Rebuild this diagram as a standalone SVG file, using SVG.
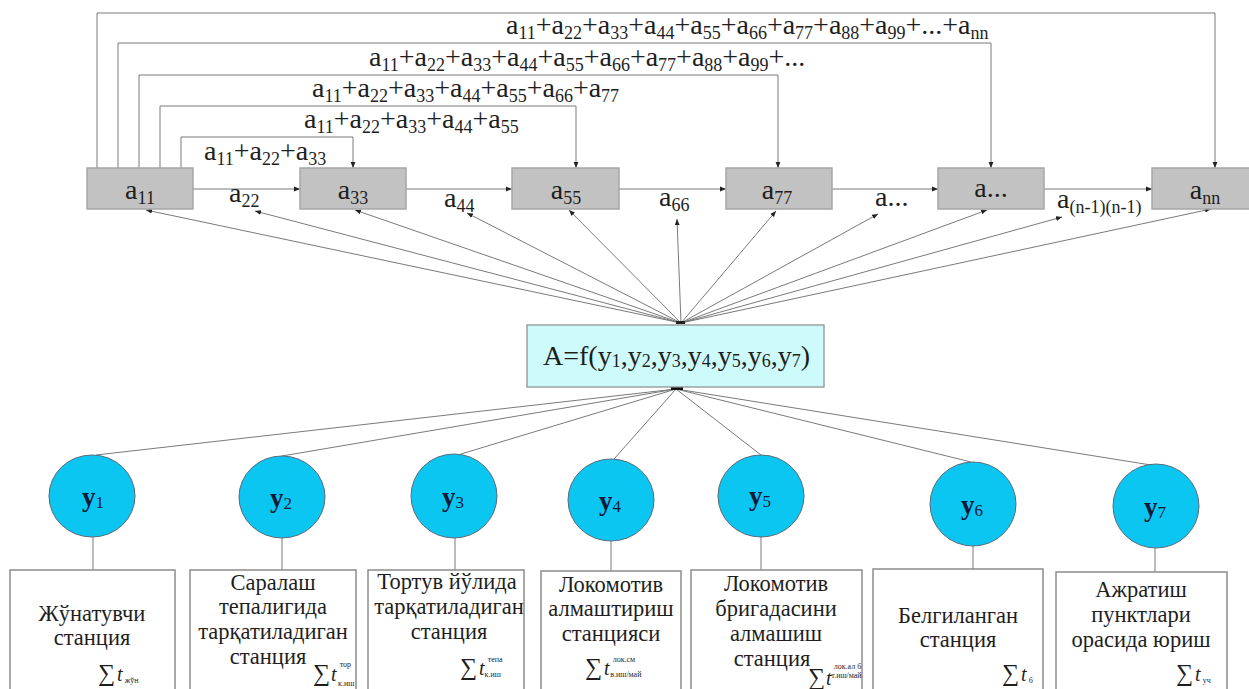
<svg xmlns="http://www.w3.org/2000/svg" width="1249" height="689" viewBox="0 0 1249 689" font-family="'Liberation Serif','Times New Roman',serif">
<defs>
<marker id="ah" viewBox="0 0 10 10" refX="10" refY="5" markerWidth="6" markerHeight="6" orient="auto" markerUnits="userSpaceOnUse">
<path d="M0,1 L10,5 L0,9 z" fill="#222"/>
</marker>
<style>
text{font-family:"Liberation Serif","Times New Roman",serif;fill:#1e1e1e}
.lbl{font-size:28px}
.s{font-size:18px}
.gb{fill:#c2c2c2;stroke:#a6a6a6;stroke-width:1.5}
.cb{fill:#cdfbfb;stroke:#8a8a8a;stroke-width:1.2}
.ci{fill:#0cc6f2;stroke:#5a6a78;stroke-width:1}
.ci-t{font-size:27px;fill:#10183a;font-weight:bold}
.ci-s{font-size:17px;fill:#10183a;font-weight:normal}
.bx{fill:#fff;stroke:#8c8c8c;stroke-width:1.5}
.bt{font-size:22.5px;text-anchor:middle}
.sig{font-size:24px}
.tt{font-size:20px;font-style:italic}
.tiny{font-size:8px}
.ln{stroke:#7a7a7a;stroke-width:1;fill:none}
.ar{stroke:#7a7a7a;stroke-width:1;fill:none;marker-end:url(#ah)}
</style>
</defs>
<rect width="1249" height="689" fill="#fff"/>

<g id="connectors">
<polyline class="ar" points="97,168 97,13 1215,13 1215,168"/>
<polyline class="ar" points="118,168 118,43 991,43 991,168"/>
<polyline class="ar" points="139,168 139,75 778,75 778,168"/>
<polyline class="ar" points="160,168 160,106 576,106 576,168"/>
<polyline class="ar" points="181,168 181,137 353,137 353,168"/>
<line class="ar" x1="192" y1="189" x2="300" y2="189"/>
<line class="ar" x1="405" y1="189" x2="512" y2="189"/>
<line class="ar" x1="619" y1="189" x2="726" y2="189"/>
<line class="ar" x1="832" y1="189" x2="938" y2="189"/>
<line class="ar" x1="1044" y1="189" x2="1152" y2="189"/>
<line class="ar" x1="681" y1="323" x2="146" y2="210"/>
<line class="ar" x1="681" y1="323" x2="255" y2="211"/>
<line class="ar" x1="681" y1="323" x2="355" y2="210"/>
<line class="ar" x1="681" y1="323" x2="467" y2="213"/>
<line class="ar" x1="681" y1="323" x2="569" y2="210"/>
<line class="ar" x1="681" y1="323" x2="677" y2="219"/>
<line class="ar" x1="681" y1="323" x2="776" y2="211"/>
<line class="ar" x1="681" y1="323" x2="878" y2="214"/>
<line class="ar" x1="681" y1="323" x2="987" y2="210"/>
<line class="ar" x1="681" y1="323" x2="1062" y2="217"/>
<line class="ar" x1="681" y1="323" x2="1211" y2="209"/>
<rect x="676" y="321" width="9" height="3" fill="#222"/>
<line class="ln" x1="676" y1="389" x2="96" y2="455"/>
<line class="ln" x1="676" y1="389" x2="282" y2="456"/>
<line class="ln" x1="676" y1="389" x2="461" y2="454"/>
<line class="ln" x1="676" y1="389" x2="614" y2="459"/>
<line class="ln" x1="676" y1="389" x2="761" y2="455"/>
<line class="ln" x1="676" y1="389" x2="971" y2="462"/>
<line class="ln" x1="676" y1="389" x2="1151" y2="465"/>
<rect x="671" y="386" width="12" height="4" fill="#111"/>
<line class="ln" x1="93" y1="537" x2="93" y2="570"/>
<line class="ln" x1="282" y1="538" x2="282" y2="570"/>
<line class="ln" x1="455" y1="538" x2="455" y2="570"/>
<line class="ln" x1="611" y1="541" x2="611" y2="571"/>
<line class="ln" x1="761" y1="537" x2="761" y2="570"/>
<line class="ln" x1="973" y1="546" x2="973" y2="570"/>
<line class="ln" x1="1155" y1="548" x2="1155" y2="572"/>
</g>

<g id="sum-labels">
<text class="lbl" x="506" y="34">a<tspan class="s" dy="5">11</tspan><tspan dy="-5">+a</tspan><tspan class="s" dy="5">22</tspan><tspan dy="-5">+a</tspan><tspan class="s" dy="5">33</tspan><tspan dy="-5">+a</tspan><tspan class="s" dy="5">44</tspan><tspan dy="-5">+a</tspan><tspan class="s" dy="5">55</tspan><tspan dy="-5">+a</tspan><tspan class="s" dy="5">66</tspan><tspan dy="-5">+a</tspan><tspan class="s" dy="5">77</tspan><tspan dy="-5">+a</tspan><tspan class="s" dy="5">88</tspan><tspan dy="-5">+a</tspan><tspan class="s" dy="5">99</tspan><tspan dy="-5">+...+a</tspan><tspan class="s" dy="5">nn</tspan></text>
<text class="lbl" x="369" y="66">a<tspan class="s" dy="5">11</tspan><tspan dy="-5">+a</tspan><tspan class="s" dy="5">22</tspan><tspan dy="-5">+a</tspan><tspan class="s" dy="5">33</tspan><tspan dy="-5">+a</tspan><tspan class="s" dy="5">44</tspan><tspan dy="-5">+a</tspan><tspan class="s" dy="5">55</tspan><tspan dy="-5">+a</tspan><tspan class="s" dy="5">66</tspan><tspan dy="-5">+a</tspan><tspan class="s" dy="5">77</tspan><tspan dy="-5">+a</tspan><tspan class="s" dy="5">88</tspan><tspan dy="-5">+a</tspan><tspan class="s" dy="5">99</tspan><tspan dy="-5">+...</tspan></text>
<text class="lbl" x="312" y="97">a<tspan class="s" dy="5">11</tspan><tspan dy="-5">+a</tspan><tspan class="s" dy="5">22</tspan><tspan dy="-5">+a</tspan><tspan class="s" dy="5">33</tspan><tspan dy="-5">+a</tspan><tspan class="s" dy="5">44</tspan><tspan dy="-5">+a</tspan><tspan class="s" dy="5">55</tspan><tspan dy="-5">+a</tspan><tspan class="s" dy="5">66</tspan><tspan dy="-5">+a</tspan><tspan class="s" dy="5">77</tspan></text>
<text class="lbl" x="304" y="128">a<tspan class="s" dy="5">11</tspan><tspan dy="-5">+a</tspan><tspan class="s" dy="5">22</tspan><tspan dy="-5">+a</tspan><tspan class="s" dy="5">33</tspan><tspan dy="-5">+a</tspan><tspan class="s" dy="5">44</tspan><tspan dy="-5">+a</tspan><tspan class="s" dy="5">55</tspan></text>
<text class="lbl" x="204" y="160">a<tspan class="s" dy="5">11</tspan><tspan dy="-5">+a</tspan><tspan class="s" dy="5">22</tspan><tspan dy="-5">+a</tspan><tspan class="s" dy="5">33</tspan></text>
</g>

<g id="edge-labels">
<text class="lbl" x="229" y="202">a<tspan class="s" dy="5">22</tspan></text>
<text class="lbl" x="444" y="207">a<tspan class="s" dy="5">44</tspan></text>
<text class="lbl" x="659" y="206">a<tspan class="s" dy="5">66</tspan></text>
<text class="lbl" x="875" y="206">a...</text>
<text class="lbl" x="1057" y="208">a<tspan class="s" dy="5">(n-1)(n-1)</tspan></text>
</g>

<g id="a11"><rect class="gb" x="87" y="168" width="106" height="41"/><text class="lbl" x="140" y="199" text-anchor="middle">a<tspan class="s" dy="5">11</tspan></text></g>
<g id="a33"><rect class="gb" x="300" y="168" width="106" height="41"/><text class="lbl" x="353" y="199" text-anchor="middle">a<tspan class="s" dy="5">33</tspan></text></g>
<g id="a55"><rect class="gb" x="512" y="168" width="107" height="41"/><text class="lbl" x="566" y="199" text-anchor="middle">a<tspan class="s" dy="5">55</tspan></text></g>
<g id="a77"><rect class="gb" x="726" y="168" width="106" height="41"/><text class="lbl" x="777" y="199" text-anchor="middle">a<tspan class="s" dy="5">77</tspan></text></g>
<g id="adots"><rect class="gb" x="938" y="168" width="106" height="41"/><text class="lbl" x="991" y="197" text-anchor="middle">a...</text></g>
<g id="ann"><rect class="gb" x="1152" y="168" width="106" height="41"/><text class="lbl" x="1205" y="199" text-anchor="middle">a<tspan class="s" dy="5">nn</tspan></text></g>

<g id="func"><rect class="cb" x="527" y="325" width="297" height="62"/>
<text class="lbl" x="543" y="365">A=f(y<tspan class="s" dy="2">1</tspan><tspan dy="-2">,y</tspan><tspan class="s" dy="2">2</tspan><tspan dy="-2">,y</tspan><tspan class="s" dy="2">3</tspan><tspan dy="-2">,y</tspan><tspan class="s" dy="2">4</tspan><tspan dy="-2">,y</tspan><tspan class="s" dy="2">5</tspan><tspan dy="-2">,y</tspan><tspan class="s" dy="2">6</tspan><tspan dy="-2">,y</tspan><tspan class="s" dy="2">7</tspan><tspan dy="-2">)</tspan></text></g>

<g id="y1"><ellipse class="ci" cx="92" cy="496" rx="43" ry="41"/><text class="ci-t" x="82" y="506">y<tspan class="ci-s" dy="2">1</tspan></text></g>
<g id="y2"><ellipse class="ci" cx="282" cy="497" rx="43" ry="41"/><text class="ci-t" x="270" y="507">y<tspan class="ci-s" dy="2">2</tspan></text></g>
<g id="y3"><ellipse class="ci" cx="454" cy="496" rx="43" ry="42"/><text class="ci-t" x="442" y="506">y<tspan class="ci-s" dy="2">3</tspan></text></g>
<g id="y4"><ellipse class="ci" cx="611" cy="500" rx="43" ry="41"/><text class="ci-t" x="599" y="510">y<tspan class="ci-s" dy="2">4</tspan></text></g>
<g id="y5"><ellipse class="ci" cx="761" cy="496" rx="43" ry="41"/><text class="ci-t" x="749" y="505">y<tspan class="ci-s" dy="2">5</tspan></text></g>
<g id="y6"><ellipse class="ci" cx="973" cy="504" rx="43" ry="42"/><text class="ci-t" x="961" y="514">y<tspan class="ci-s" dy="2">6</tspan></text></g>
<g id="y7"><ellipse class="ci" cx="1156" cy="506" rx="43" ry="42"/><text class="ci-t" x="1144" y="516">y<tspan class="ci-s" dy="2">7</tspan></text></g>

<g id="b1"><rect class="bx" x="10" y="570" width="165" height="130"/>
<text class="bt" x="92" y="621">Жўнатувчи</text><text class="bt" x="92" y="645">станция</text>
<text x="98" y="681"><tspan class="sig">∑</tspan><tspan class="tt" dx="2">t</tspan><tspan class="tiny" dx="2" dy="2">жўн</tspan></text></g>
<g id="b2"><rect class="bx" x="190" y="570" width="166" height="130"/>
<text class="bt" x="273" y="590">Саралаш</text><text class="bt" x="273" y="614">тепалигида</text><text class="bt" x="273" y="639">тарқатиладиган</text><text class="bt" x="268" y="664">станция</text>
<text x="313" y="681"><tspan class="sig">∑</tspan><tspan class="tt" dx="1">t</tspan><tspan class="tiny" dx="3" dy="-14">тор</tspan><tspan class="tiny" dx="-13" dy="19">к.иш</tspan></text></g>
<g id="b3"><rect class="bx" x="368" y="570" width="156" height="130"/>
<text class="bt" x="447" y="589">Тортув йўлида</text><text class="bt" x="449" y="614">тарқатиладиган</text><text class="bt" x="449" y="639">станция</text>
<text x="460" y="675"><tspan class="sig">∑</tspan><tspan class="tt" dx="2">t</tspan><tspan class="tiny" dx="3" dy="-13">тепа</tspan><tspan class="tiny" dx="-18" dy="15">к.иш</tspan></text></g>
<g id="b4"><rect class="bx" x="541" y="571" width="140" height="130"/>
<text class="bt" x="611" y="592">Локомотив</text><text class="bt" x="611" y="616">алмаштириш</text><text class="bt" x="611" y="641">станцияси</text>
<text x="585" y="675"><tspan class="sig">∑</tspan><tspan class="tt" dx="2">t</tspan><tspan class="tiny" dx="3" dy="-13">лок.см</tspan><tspan class="tiny" dx="-25" dy="15">в.иш/май</tspan></text></g>
<g id="b5"><rect class="bx" x="691" y="570" width="171" height="130"/>
<text class="bt" x="776" y="591">Локомотив</text><text class="bt" x="776" y="616">бригадасини</text><text class="bt" x="776" y="641">алмашиш</text><text class="bt" x="772" y="666">станция</text>
<text x="808" y="685"><tspan class="sig">∑</tspan><tspan class="tt" dx="1">t</tspan><tspan class="tiny" dx="2" dy="-16">лок.ал б</tspan><tspan class="tiny" dx="-30" dy="9">т.иш/май</tspan></text></g>
<g id="b6"><rect class="bx" x="873" y="569" width="170" height="130"/>
<text class="bt" x="958" y="623">Белгиланган</text><text class="bt" x="958" y="647">станция</text>
<text x="1002" y="681"><tspan class="sig">∑</tspan><tspan class="tt" dx="2">t</tspan><tspan class="tiny" dx="2" dy="2">б</tspan></text></g>
<g id="b7"><rect class="bx" x="1056" y="572" width="171" height="130"/>
<text class="bt" x="1141" y="597">Ажратиш</text><text class="bt" x="1141" y="622">пунктлари</text><text class="bt" x="1141" y="647">орасида юриш</text>
<text x="1176" y="681"><tspan class="sig">∑</tspan><tspan class="tt" dx="2">t</tspan><tspan class="tiny" dx="2" dy="2">уч</tspan></text></g>
</svg>
